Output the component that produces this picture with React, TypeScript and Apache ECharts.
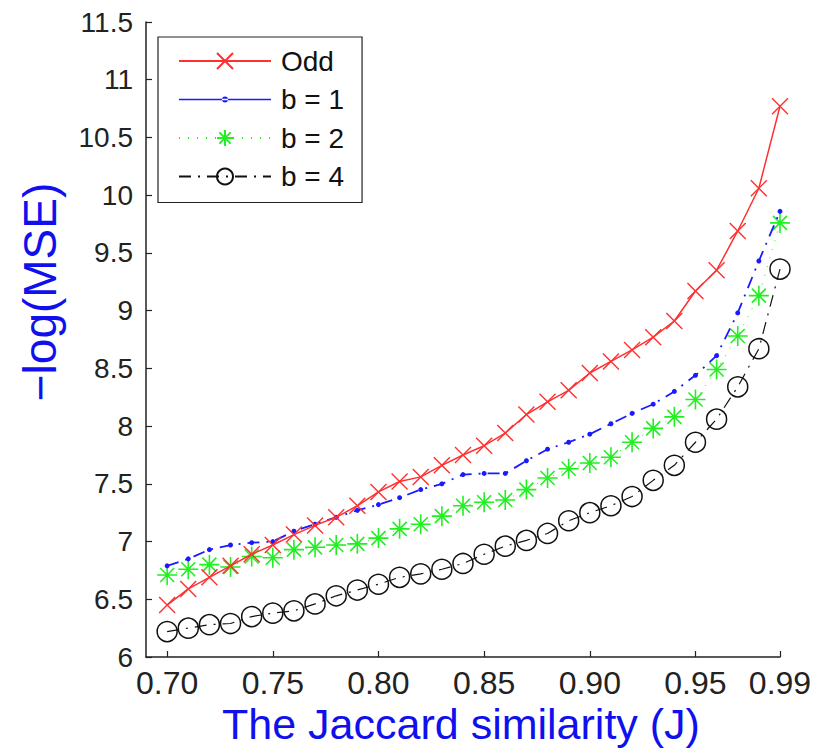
import React, { useEffect, useRef } from "react";
import * as echarts from "echarts";

const jaccard = [
  0.7, 0.71, 0.72, 0.73, 0.74, 0.75, 0.76, 0.77, 0.78, 0.79,
  0.8, 0.81, 0.82, 0.83, 0.84, 0.85, 0.86, 0.87, 0.88, 0.89,
  0.9, 0.91, 0.92, 0.93, 0.94, 0.95, 0.96, 0.97, 0.98, 0.99,
];
const oddValues = [
  6.45, 6.59, 6.69, 6.79, 6.89, 6.97, 7.06, 7.14, 7.21, 7.31,
  7.43, 7.52, 7.56, 7.66, 7.75, 7.83, 7.94, 8.1, 8.21, 8.31,
  8.46, 8.56, 8.66, 8.77, 8.91, 9.17, 9.35, 9.69, 10.06, 10.77,
];
const b1Values = [
  6.79, 6.85, 6.93, 6.97, 6.99, 7.0, 7.09, 7.15, 7.21, 7.27,
  7.32, 7.38, 7.45, 7.5, 7.58, 7.59, 7.59, 7.7, 7.8, 7.86,
  7.93, 8.02, 8.11, 8.19, 8.3, 8.44, 8.61, 8.98, 9.43, 9.86,
];
const b2Values = [
  6.71, 6.76, 6.8, 6.78, 6.87, 6.86, 6.93, 6.95, 6.97, 6.98,
  7.03, 7.11, 7.15, 7.22, 7.31, 7.34, 7.36, 7.45, 7.55, 7.63,
  7.68, 7.73, 7.86, 7.98, 8.08, 8.23, 8.49, 8.78, 9.13, 9.76,
];
const b4Values = [
  6.22, 6.25, 6.28, 6.29, 6.35, 6.38, 6.4, 6.46, 6.53, 6.58,
  6.63, 6.69, 6.72, 6.76, 6.81, 6.89, 6.96, 7.01, 7.07, 7.18,
  7.25, 7.31, 7.39, 7.53, 7.66, 7.86, 8.06, 8.34, 8.67, 9.36,
];
const xTickValues = [0.7, 0.75, 0.8, 0.85, 0.9, 0.95, 0.99];
const seriesNames = ["Odd", "b = 1", "b = 2", "b = 4"];
const xTitle = "The Jaccard similarity (J)";
const yTitle = "\u2212log(MSE)";

const CROSS = "path://M0,0L20,20M20,0L0,20";
const STAR = "path://M10,0L10,20M0,10L20,10M3,3L17,17M17,3L3,17";
// legend icon for b = 1: thin solid line with a small dot in the middle
const DOT_LINE_ICON =
  "path://M0,9.3L92,9.3L92,10.7L0,10.7Z M43,10a3,3 0 1,0 6,0a3,3 0 1,0 -6,0Z";

const pairs = (vals: number[]) => jaccard.map((x, i) => [x, vals[i]]);

export default function App() {
  const ref = useRef<HTMLDivElement>(null);
  useEffect(() => {
    document.body.style.margin = "0";
    const chart = echarts.init(ref.current!, null, { renderer: "svg" });
    const font = "Liberation Sans";
    chart.setOption({
      animation: false,
      backgroundColor: "#ffffff",
      grid: { left: 146, top: 22, right: 36, bottom: 92, containLabel: false },
      xAxis: {
        type: "value",
        min: 0.69,
        max: 0.99,
        axisLine: { show: true, lineStyle: { color: "#222", width: 1.5 } },
        axisTick: {
          show: true,
          inside: true,
          length: 6,
          customValues: xTickValues,
          lineStyle: { color: "#222", width: 1.2 },
        },
        axisLabel: {
          customValues: xTickValues,
          formatter: (v: number) => v.toFixed(2),
          fontFamily: font,
          fontSize: 32,
          color: "#222",
          margin: 10,
        },
        splitLine: { show: false },
      },
      yAxis: {
        type: "value",
        min: 6,
        max: 11.5,
        interval: 0.5,
        axisLine: { show: true, lineStyle: { color: "#222", width: 1.5 } },
        axisTick: { show: true, inside: true, length: 6, lineStyle: { color: "#222", width: 1.2 } },
        axisLabel: { fontFamily: font, fontSize: 28, color: "#222", margin: 13 },
        splitLine: { show: false },
      },
      legend: {
        orient: "vertical",
        left: 158,
        top: 37,
        backgroundColor: "#ffffff",
        borderColor: "#222",
        borderWidth: 1.2,
        borderRadius: 0,
        padding: [10, 18, 12, 20],
        itemWidth: 92,
        itemHeight: 20,
        itemGap: 10.5,
        textStyle: { fontFamily: font, fontSize: 28, color: "#111", padding: [0, 0, 0, 5] },
        data: [
          { name: seriesNames[0] },
          { name: seriesNames[1], icon: DOT_LINE_ICON },
          { name: seriesNames[2] },
          { name: seriesNames[3] },
        ],
      },
      graphic: [
        {
          type: "text",
          x: 40,
          y: 292,
          rotation: Math.PI / 2,
          style: {
            text: yTitle,
            font: "46px Liberation Sans",
            fill: "#1010ee",
            textAlign: "center",
            textVerticalAlign: "middle",
          },
        },
        {
          type: "text",
          x: 461,
          y: 724,
          style: {
            text: xTitle,
            font: "43px Liberation Sans",
            fill: "#1010ee",
            textAlign: "center",
            textVerticalAlign: "middle",
          },
        },
      ],
      series: [
        {
          name: seriesNames[0],
          type: "line",
          data: pairs(oddValues),
          symbol: CROSS,
          symbolSize: 16,
          lineStyle: { color: "#ff3030", width: 1.5, type: "solid" },
          itemStyle: { color: "#ff3030", borderColor: "#ff3030", borderWidth: 1.4 },
          z: 4,
        },
        {
          name: seriesNames[1],
          type: "line",
          data: pairs(b1Values),
          symbol: "circle",
          symbolSize: 5,
          lineStyle: { color: "#1a1aff", width: 1.8, type: [12, 7, 2, 7] },
          itemStyle: { color: "#1a1aff", borderWidth: 0 },
          z: 3,
        },
        {
          name: seriesNames[2],
          type: "line",
          data: pairs(b2Values),
          symbol: STAR,
          symbolSize: 20,
          lineStyle: { color: "#22ee22", width: 1, type: [1, 8] },
          itemStyle: { color: "#22ee22", borderColor: "#22ee22", borderWidth: 1.6 },
          z: 2,
        },
        {
          name: seriesNames[3],
          type: "line",
          data: pairs(b4Values),
          symbol: "circle",
          symbolSize: 20,
          lineStyle: { color: "#111", width: 1.2, type: [12, 7, 2, 7] },
          itemStyle: { color: "transparent", borderColor: "#111", borderWidth: 1.5 },
          z: 1,
        },
      ],
    });
    return () => chart.dispose();
  }, []);
  return (
    <div
      ref={ref}
      style={{ position: "fixed", left: 0, top: 0, width: 816, height: 749 }}
    />
  );
}
